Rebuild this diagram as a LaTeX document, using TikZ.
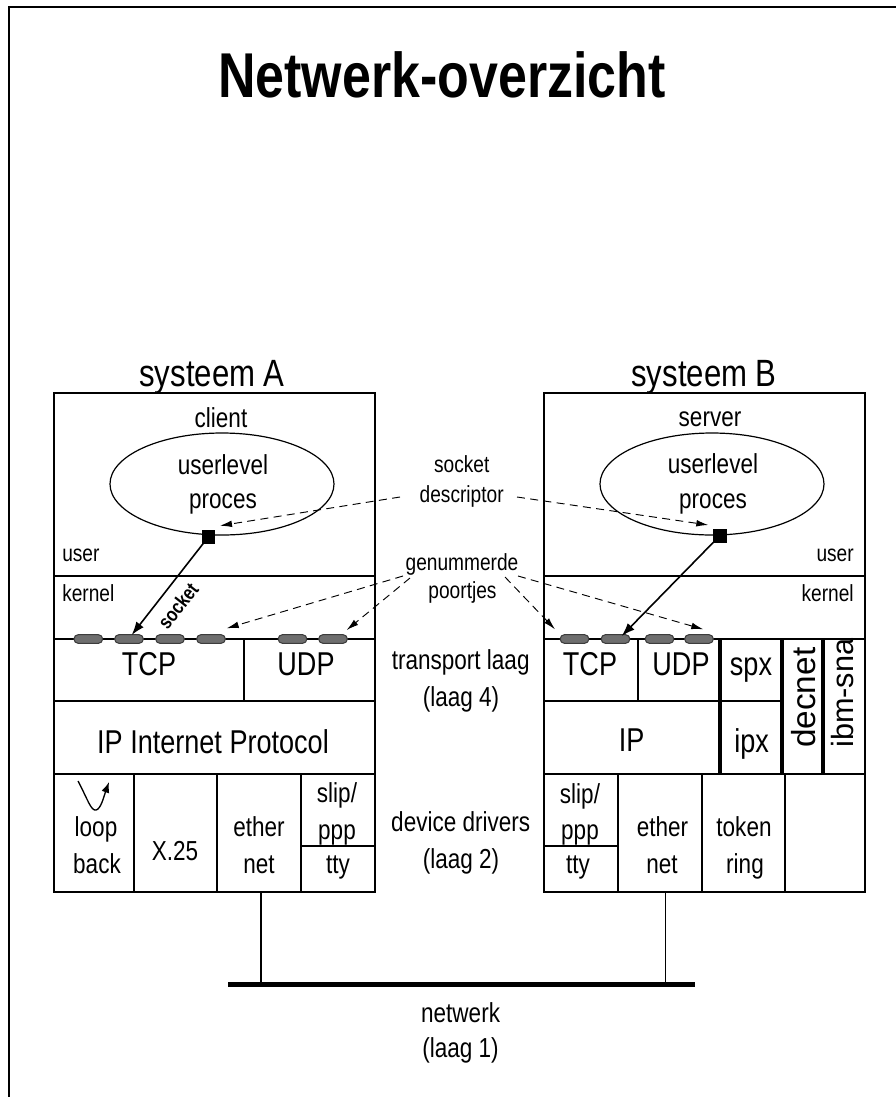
\documentclass[tikz,border=0pt]{standalone}
\usepackage{fontspec}
\setmainfont{Liberation Sans}[FakeStretch=0.82]
\newfontfamily\plainsans{Liberation Sans}
\usetikzlibrary{arrows.meta}
\newcommand\fsTitle{\bfseries\fontsize{47.5}{54}\selectfont}
\newcommand\fsSys{\fontsize{28.5}{32}\selectfont}
\newcommand\fsBig{\fontsize{24.75}{28}\selectfont}
\newcommand\fsRotA{\plainsans\fontsize{25}{28}\selectfont}
\newcommand\fsRotB{\plainsans\fontsize{23}{26}\selectfont}
\newcommand\fsMed{\fontsize{20.6}{24}\selectfont}
\newcommand\fsSm{\fontsize{17.5}{20}\selectfont}
\newcommand\fsSock{\bfseries\fontsize{15}{17}\selectfont}
\definecolor{portfill}{RGB}{110,110,110}
\definecolor{portdraw}{RGB}{60,60,60}
\begin{document}
\begin{tikzpicture}[x=0.75pt,y=-0.75pt,
  t/.style={inner sep=0pt,anchor=base},
  tbig/.style={t,font=\fsBig},
  tmed/.style={t,font=\fsMed},
  tsm/.style={t,font=\fsSm},
  box/.style={line width=1.3pt},
  thickl/.style={line width=2.4pt},
  port/.style={draw=portdraw,fill=portfill,line width=0.8pt,rounded corners=3.2pt,
    minimum width=21.5pt,minimum height=6.5pt,inner sep=0pt},
  sq/.style={fill=black,draw=black,minimum size=9.5pt,inner sep=0pt},
  sockarrow/.style={line width=1.2pt,-{Latex[length=10pt,width=7pt]}},
  darrow/.style={line width=0.7pt,dash pattern=on 6pt off 4pt,-{Latex[length=9pt,width=5pt]}},
  frame/.style={line width=1pt}]
\useasboundingbox (0,0) rectangle (896,1097);
\draw[frame] (9,1097) -- (9,7) -- (896,7);

\node[t,font=\fsTitle] (title) at (442,97) {Netwerk-overzicht};

\node[t,font=\fsSys] (sysA) at (212,386) {systeem A};
\node[t,font=\fsSys] (sysB) at (704,386) {systeem B};

% ---------- system A ----------
\draw[box] (54,393) rectangle (375,892);
\draw[box] (54,576) -- (375,576);
\draw[box] (54,639) -- (375,639);
\draw[box] (244,639) -- (244,701);
\draw[box] (54,701) -- (375,701);
\draw[box] (54,774) -- (375,774);
\draw[box] (134,774) -- (134,892);
\draw[box] (217,774) -- (217,892);
\draw[box] (301,774) -- (301,892);
\draw[box] (301,846) -- (375,846);

\draw[line width=0.9pt] (222,484) ellipse [x radius=112, y radius=51];
\node[tmed] (clientA) at (221,427.7) {client};
\node[tmed] (ulA) at (223,474) {userlevel};
\node[tmed] (prA) at (223,508) {proces};
\node[tsm,anchor=base west] (userA) at (62,561.7) {user};
\node[tsm,anchor=base west] (kernA) at (62,601.7) {kernel};
\node[tbig] (tcpA) at (149,675) {TCP};
\node[tbig] (udpA) at (306,675) {UDP};
\node[tbig] (ipA) at (213,753) {IP Internet Protocol};
\node[tmed] (loopA) at (96,836.7) {loop};
\node[tmed] (backA) at (97,873) {back};
\node[tmed] (x25A) at (175,860) {X.25};
\node[tmed] (etherA) at (259,836.7) {ether};
\node[tmed] (netA) at (259,873) {net};
\node[tmed] (slipA) at (337,802) {slip/};
\node[tmed] (pppA) at (337,839) {ppp};
\node[tmed] (ttyA) at (338,873) {tty};
\draw[line width=1pt,-{Latex[length=8pt,width=6pt]}] (78,781) .. controls (88,800) and (91,811) .. (96,810) .. controls (101,809) and (104,796) .. (109,782);

\node[port] (pA1) at (88.3,639) {};
\node[port] (pA2) at (129,639) {};
\node[port] (pA3) at (170,639) {};
\node[port] (pA4) at (211,639) {};
\node[port] (pA5) at (292.5,639) {};
\node[port] (pA6) at (333,639) {};

\coordinate (tipSockA) at (131.7,635);
\node[sq] (sqA) at (208.3,537) {};
\draw[sockarrow] (sqA) -- (tipSockA);
\node[t,font=\fsSock,anchor=center,rotate=52] (sockA) at (178,606) {socket};

% ---------- system B ----------
\draw[box] (544,393) rectangle (865,892);
\draw[box] (544,576) -- (865,576);
\draw[box] (544,639) -- (865,639);
\draw[box] (638,639) -- (638,701);
\draw[box] (544,701) -- (720,701);
\draw[box] (720,701) -- (783,701);
\draw[box] (544,774) -- (865,774);
\draw[thickl] (720,639) -- (720,774);
\draw[thickl] (782,639) -- (782,774);
\draw[thickl] (823,639) -- (823,774);
\draw[box] (618,774) -- (618,892);
\draw[box] (702,774) -- (702,892);
\draw[box] (785,774) -- (785,892);
\draw[box] (544,846) -- (618,846);

\draw[line width=0.9pt] (712,484) ellipse [x radius=112, y radius=51];
\node[tmed] (serverB) at (710,426.7) {server};
\node[tmed] (ulB) at (713,473) {userlevel};
\node[tmed] (prB) at (713,508) {proces};
\node[tsm,anchor=base east] (userB) at (854,561.7) {user};
\node[tsm,anchor=base east] (kernB) at (854,601.7) {kernel};
\node[tbig] (tcpB) at (590,675) {TCP};
\node[tbig] (udpB) at (681,675) {UDP};
\node[tbig] (spxB) at (751,675) {spx};
\node[tbig] (ipB) at (631.7,751.7) {IP};
\node[tbig] (ipxB) at (751.7,752) {ipx};
\node[inner sep=0pt,anchor=base west,rotate=90,font=\fsRotA] (decnetB) at (815,748) {decnet};
\node[inner sep=0pt,anchor=base west,rotate=90,font=\fsRotB] (ibmB) at (853,748) {ibm-sna};
\node[tmed] (slipB) at (580,803) {slip/};
\node[tmed] (pppB) at (580,839) {ppp};
\node[tmed] (ttyB) at (578,873) {tty};
\node[tmed] (etherB) at (662.5,836.7) {ether};
\node[tmed] (netB) at (662,873) {net};
\node[tmed] (tokenB) at (744,836.7) {token};
\node[tmed] (ringB) at (745,873) {ring};

\node[port] (pB1) at (574.5,639) {};
\node[port] (pB2) at (615.5,639) {};
\node[port] (pB3) at (659.5,639) {};
\node[port] (pB4) at (699,639) {};

\coordinate (tipSockB) at (621.7,636);
\node[sq] (sqB) at (720,535.5) {};
\draw[sockarrow] (sqB) -- (tipSockB);

% ---------- middle labels ----------
\node[tsm] (sock) at (461.7,472.3) {socket};
\node[tsm] (desc) at (461.7,502.7) {descriptor};
\node[tsm] (gen) at (462,570) {genummerde};
\node[tsm] (poort) at (462.5,598) {poortjes};
\node[tmed] (transp) at (460.7,669.3) {transport laag};
\node[tmed] (laag4) at (461,706) {(laag 4)};
\node[tmed] (devdr) at (460.7,831.7) {device drivers};
\node[tmed] (laag2) at (461,868) {(laag 2)};

\coordinate (dsA) at (400,497);
\coordinate (dsB) at (517,497);
\coordinate (dtA) at (220,525.7);
\coordinate (dtB) at (708.3,525);
\coordinate (gsA1) at (403,576);
\coordinate (gsA2) at (410,578);
\coordinate (gsB1) at (505,577);
\coordinate (gsB2) at (518,576);
\coordinate (gtA1) at (226.7,628.3);
\coordinate (gtA2) at (346.7,630);
\coordinate (gtB1) at (555,629.3);
\coordinate (gtB2) at (703.3,629.3);
\draw[darrow] (dsA) -- (dtA);
\draw[darrow] (dsB) -- (dtB);
\draw[darrow] (gsA1) -- (gtA1);
\draw[darrow] (gsA2) -- (gtA2);
\draw[darrow] (gsB1) -- (gtB1);
\draw[darrow] (gsB2) -- (gtB2);

% ---------- network ----------
\coordinate (dropA) at (261,892);
\coordinate (dropB) at (665.5,892);
\coordinate (netL) at (228,984.7);
\coordinate (netR) at (695,984.7);
\coordinate (jA) at (261,984.7);
\coordinate (jB) at (665.5,984.7);
\draw[line width=1pt] (dropA) -- (jA);
\draw[line width=1pt] (dropB) -- (jB);
\draw[line width=3.8pt] (netL) -- (netR);
\node[tmed] (netw) at (460.6,1022.5) {netwerk};
\node[tmed] (laag1) at (460.6,1057) {(laag 1)};
\end{tikzpicture}
\end{document}
